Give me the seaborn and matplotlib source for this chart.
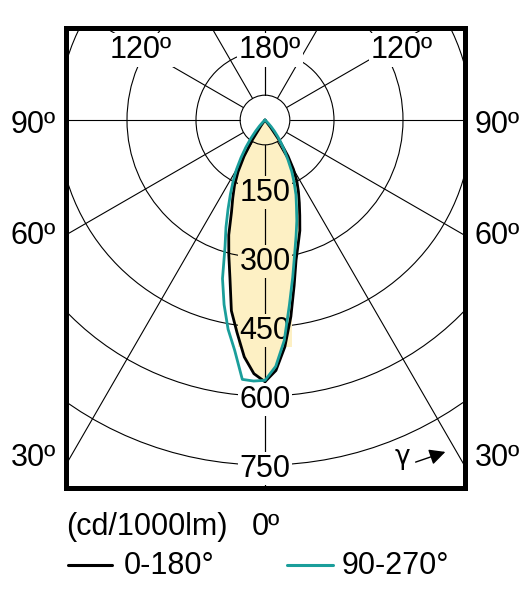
import numpy as np
import pandas as pd
import seaborn as sns
import matplotlib.pyplot as plt
from matplotlib.lines import Line2D
from matplotlib.patches import Circle

sns.set_style("white")
plt.rcParams['font.family'] = ['Liberation Sans', 'DejaVu Sans']
plt.rcParams['text.color'] = 'black'

# gamma angles (deg) and intensities (cd/1000lm) per half plane
gamma = [0, 2.5, 5, 7.5, 10, 12.5, 15, 17.5, 20, 22.5, 25, 27.5, 30, 32.5, 35, 37.5, 40, 42.5, 45, 47.5]
r_c0 = [569, 545, 495, 431, 365, 312, 279, 252, 221, 195, 172, 150, 124, 93, 56, 20, 0, 0, 0, 0]
r_c180 = [569, 552, 517, 466, 421, 352, 304, 262, 213, 183, 157, 127, 91, 51, 15, 0, 0, 0, 0, 0]
r_c90 = [566, 536, 481, 406, 347, 298, 261, 230, 200, 176, 150, 126, 100, 79, 61, 46, 32, 20, 10, 0]
r_c270 = [566, 568, 566, 505, 462, 411, 357, 289, 248, 210, 178, 150, 124, 97, 73, 51, 32, 18, 8, 0]

rings = [150, 300, 450, 600, 750]
ring_labels = ['150', '300', '450', '600', '750']
spokes = [0, 30, 60, 90, 120, 150, 180]
hole = 54

fill_col = '#fdf0c4'
teal = '#1a9e9b'
W, H = 531, 590


def outline(right, left):
    g = np.radians(gamma)
    xl = -np.array(left) * np.sin(g)
    yl = -np.array(left) * np.cos(g)
    xr = np.array(right) * np.sin(g)
    yr = -np.array(right) * np.cos(g)
    return np.concatenate([xl[::-1], xr]), np.concatenate([yl[::-1], yr])


x_a, y_a = outline(r_c0, r_c180)
x_b, y_b = outline(r_c90, r_c270)
df = pd.DataFrame({
    'x': np.concatenate([x_a, x_b]),
    'y': np.concatenate([y_a, y_b]),
    'plane': ['0-180'] * len(x_a) + ['90-270'] * len(x_b),
})

fig = plt.figure(figsize=(W / 100, H / 100), dpi=100)
ax = fig.add_axes([65.5 / W, 1 - 487.5 / H, 399.5 / W, 460 / H])

ax.fill(x_a, y_a, color=fill_col, lw=0, zorder=1)

for r in rings + [hole]:
    ax.add_patch(Circle((0, 0), r, fill=False, lw=0.8, ec='black', zorder=2))
for a in spokes:
    t = np.radians(a)
    for side in (1, -1):
        ax.plot([side * hole * np.sin(t), side * 1500 * np.sin(t)],
                [-hole * np.cos(t), -1500 * np.cos(t)], color='black', lw=0.8, zorder=2)

for r, lab in zip(rings, ring_labels):
    bg = fill_col if r < 500 else 'white'
    ax.text(0, -r, lab, ha='center', va='center_baseline', fontsize=22, zorder=3,
            bbox=dict(boxstyle='square,pad=0.05', fc=bg, ec='none'))

sns.lineplot(data=df, x='x', y='y', hue='plane', palette={'0-180': 'black', '90-270': teal},
             sort=False, estimator=None, lw=2, legend=False, ax=ax, zorder=4)

ax.set_xlim(-433.7, 434.8)
ax.set_ylim(-798.9, 201.1)
ax.set_xticks([])
ax.set_yticks([])
ax.set_xlabel('')
ax.set_ylabel('')
for s in ax.spines.values():
    s.set_linewidth(3.6)
    s.set_color('black')


def fx(px):
    return px / W


def fy(py):
    return 1 - py / H


wbox = dict(boxstyle='square,pad=0.05', fc='white', ec='none')
fig.text(fx(141), fy(50), '120º', ha='center', va='center', fontsize=22, bbox=wbox)
fig.text(fx(270), fy(50), '180º', ha='center', va='center', fontsize=22, bbox=wbox)
fig.text(fx(402), fy(50), '120º', ha='center', va='center', fontsize=22, bbox=wbox)
for lab, py in [('90º', 125), ('60º', 236), ('30º', 458)]:
    fig.text(fx(33), fy(py), lab, ha='center', va='center', fontsize=22)
    fig.text(fx(497), fy(py), lab, ha='center', va='center', fontsize=22)

fig.text(fx(402), fy(457), 'γ', ha='center', va='center', fontsize=19, family='DejaVu Sans')
ax.annotate('', xy=(fx(448), fy(451)), xytext=(fx(413), fy(463)),
            xycoords='figure fraction', textcoords='figure fraction',
            arrowprops=dict(arrowstyle='-|>', color='black', lw=1, mutation_scale=24))

fig.text(fx(66), fy(527), '(cd/1000lm)', ha='left', va='center', fontsize=22)
fig.text(fx(252), fy(527), '0º', ha='left', va='center', fontsize=22)
fig.add_artist(Line2D([fx(68), fx(112)], [fy(565), fy(565)], color='black', lw=2.2))
fig.text(fx(124), fy(566), '0-180°', ha='left', va='center', fontsize=22)
fig.add_artist(Line2D([fx(287), fx(333)], [fy(565), fy(565)], color=teal, lw=2.2))
fig.text(fx(342), fy(566), '90-270°', ha='left', va='center', fontsize=22)

fig.savefig('out.png', dpi=100)
